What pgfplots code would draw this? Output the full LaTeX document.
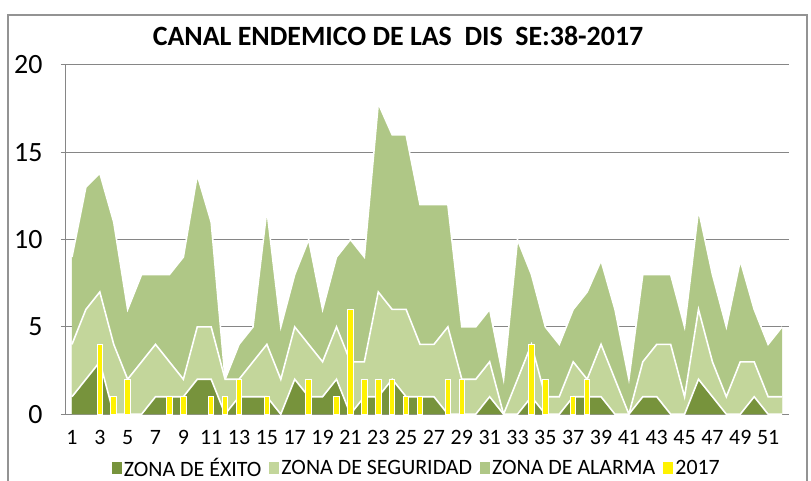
\documentclass[border=0pt]{standalone}
\usepackage{fontspec}
\setmainfont{Carlito}
\usepackage{pgfplots}
\usepackage{pgfplotstable}
\pgfplotsset{compat=1.18}
\definecolor{exito}{HTML}{77933C}
\definecolor{seguridad}{HTML}{C3D69B}
\definecolor{alarma}{HTML}{AFC786}
\definecolor{gridgray}{HTML}{868686}

% upper limit of each zone (cumulative), by epidemiological week
\pgfplotstableread{
semana alarma seguridad exito
1  9    4 1
2  13   6 2
3  13.8 7 3
4  11   4 0
5  6    2 0
6  8    3 0
7  8    4 1
8  8    3 1
9  9    2 1
10 13.7 5 2
11 11   5 2
12 2    2 0
13 4    2 1
14 5    3 1
15 11.7 4 1
16 5    2 0
17 8    5 2
18 10   4 1
19 6    3 1
20 9    5 2
21 10   3 0
22 9    3 1
23 17.8 7 1
24 16   6 2
25 16   6 1
26 12   4 1
27 12   4 1
28 12   5 0
29 5    2 0
30 5    2 0
31 6    3 1
32 2    0 0
33 10   2 0
34 8    4 1
35 5    1 0
36 4    1 0
37 6    3 1
38 7    2 1
39 8.8  4 1
40 6    2 0
41 2    0 0
42 8    3 1
43 8    4 1
44 8    4 0
45 5    1 0
46 11.7 6 2
47 8    3 1
48 5    1 0
49 8.8  3 0
50 6    3 1
51 4    1 0
52 5    1 0
}\canal

% casos 2017 (semanas con casos)
\pgfplotstableread{
semana casos
3  4
4  1
5  2
8  1
9  1
11 1
12 1
13 2
15 1
18 2
20 1
21 6
22 2
23 2
24 2
25 1
26 1
28 2
29 2
34 4
35 2
37 1
38 2
}\casos

\begin{document}
\begin{tikzpicture}
\path[use as bounding box] (0,0) rectangle (811bp,481bp);
\draw[gray!85, line width=1.2bp] (8bp,-2bp) -- (8bp,466bp) -- (807bp,466bp) -- (807bp,-2bp);
\node[font=\fontsize{28}{32}\selectfont\bfseries] at (398bp,445bp) {CANAL ENDEMICO DE LAS\ \ DIS\ \ SE:38-2017};
\begin{axis}[
  at={(65bp,66.8bp)}, anchor=south west,
  width=724bp, height=349.2bp, scale only axis,
  xmin=0.5, xmax=52.5, ymin=0, ymax=20,
  xtick={1,3,...,51}, ytick={0,5,...,20},
  axis x line*=bottom, axis y line*=left,
  axis line style={gridgray, line width=1bp, -},
  ymajorgrids, grid style={gridgray, line width=1bp},
  tick align=outside, major tick length=4bp,
  ytick style={gridgray, line width=1bp},
  xtick style={draw=none},
  /pgf/number format/assume math mode=true,
  xticklabel style={font=\fontsize{22}{26}\selectfont, yshift=-9bp},
  yticklabel style={font=\fontsize{28}{32}\selectfont, xshift=-15bp},
  legend style={at={(0.486,-0.154)}, anchor=center, draw=none, fill=none,
    legend columns=4, font=\fontsize{22}{26}\selectfont,
    /tikz/every even column/.append style={column sep=6bp}},
  legend image code/.code={\path[#1] (0bp,-6bp) rectangle (10bp,6bp);},
]
\addplot[fill=alarma, draw=none, forget plot] table[x=semana, y=alarma]{\canal} \closedcycle;
\addplot[white, line width=1.6bp, forget plot] table[x=semana, y=alarma]{\canal};
\addplot[fill=seguridad, draw=none, forget plot] table[x=semana, y=seguridad]{\canal} \closedcycle;
\addplot[white, line width=1.6bp, forget plot] table[x=semana, y=seguridad]{\canal};
\addplot[fill=exito, draw=none, forget plot] table[x=semana, y=exito]{\canal} \closedcycle;
\addplot[white, line width=1.6bp, forget plot] table[x=semana, y=exito]{\canal};
\addplot[ybar, bar width=0.4, fill=yellow, draw=white, line width=1bp, forget plot] table[x=semana, y=casos]{\casos};

\addlegendimage{fill=exito, draw=none}
\addlegendentry{ZONA DE ÉXITO}
\addlegendimage{fill=seguridad, draw=none}
\addlegendentry{ZONA DE SEGURIDAD}
\addlegendimage{fill=alarma, draw=none}
\addlegendentry{ZONA DE ALARMA}
\addlegendimage{fill=yellow, draw=none}
\addlegendentry{2017}
\end{axis}
\end{tikzpicture}
\end{document}
